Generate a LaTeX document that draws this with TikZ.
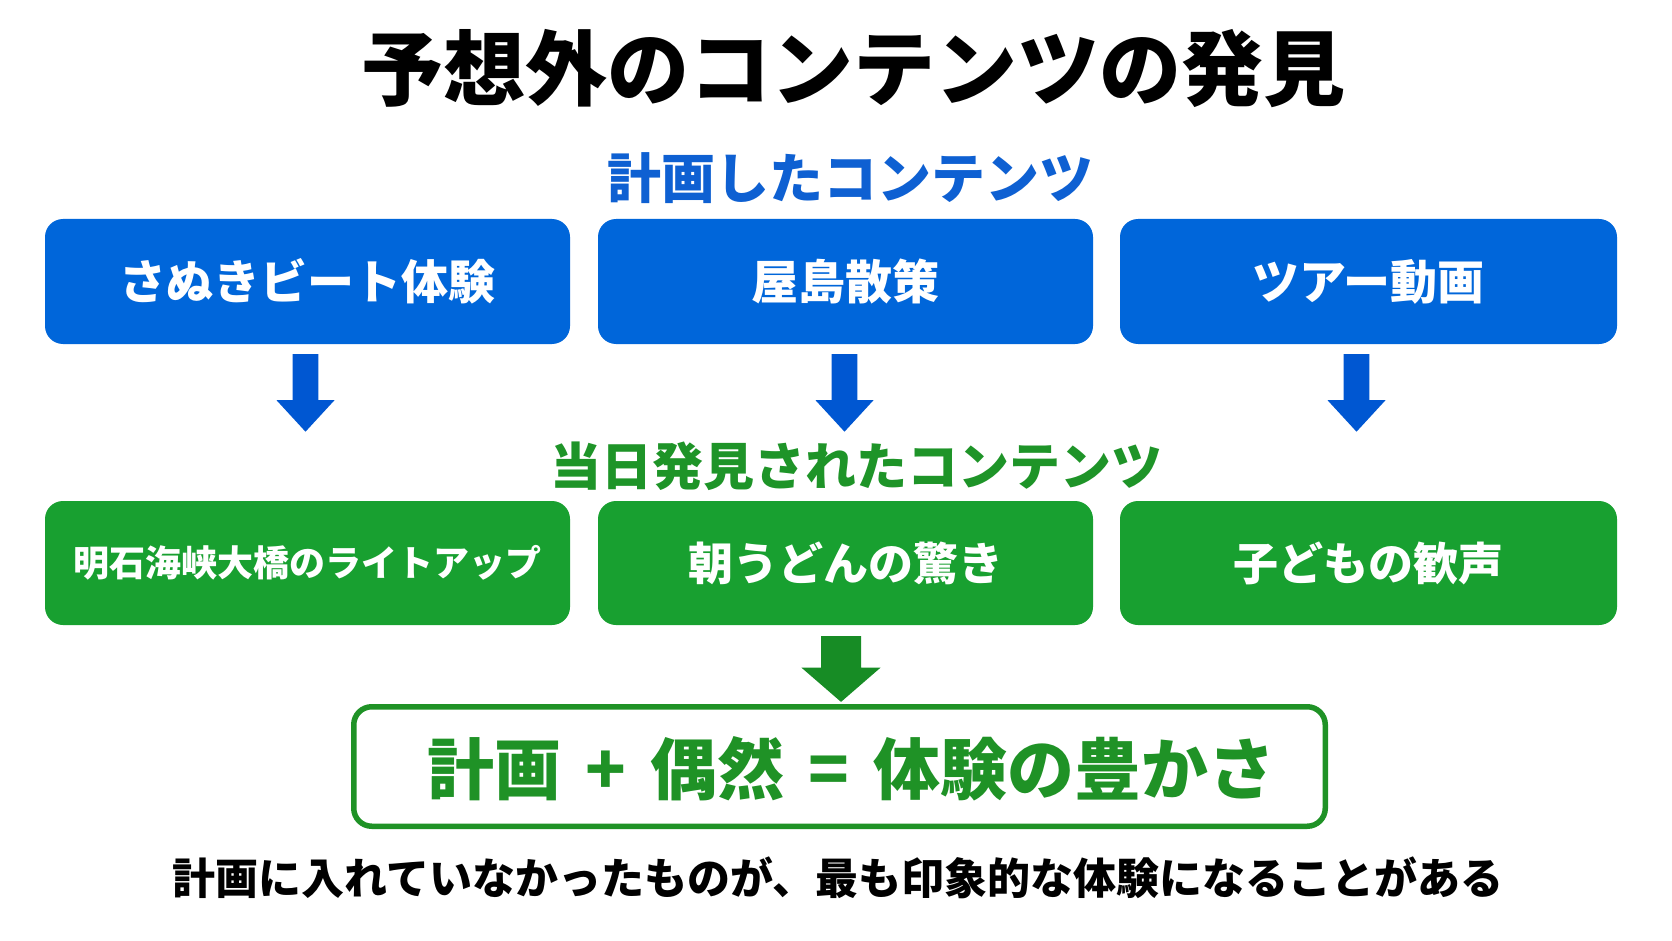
\documentclass[tikz,border=0pt]{standalone}
\usepackage{fontspec}
\usepackage{tikz}
\usetikzlibrary{calc}
\setmainfont{Noto Sans CJK JP}
\newfontfamily\heavyjp{Noto Sans CJK JP Black}
\definecolor{planblue}{HTML}{0066DA}
\definecolor{arrowblue}{HTML}{0057D2}
\definecolor{headblue}{HTML}{0E60D2}
\definecolor{foundgreen}{HTML}{18A030}
\definecolor{headgreen}{HTML}{1E9428}
\definecolor{arrowgreen}{HTML}{178C25}
\definecolor{resultgreen}{HTML}{1F9226}

\begin{document}
\begin{tikzpicture}[x=1pt,y=-1pt]
\tikzstyle{every node}+=[inner sep=0pt]
\tikzstyle{plan}=[rectangle,rounded corners=18pt,fill=planblue,text=white,minimum height=125pt,font=\bfseries\fontsize{47}{47}\selectfont]
\tikzstyle{found}=[rectangle,rounded corners=18pt,fill=foundgreen,text=white,minimum height=124pt,font=\bfseries\fontsize{45}{45}\selectfont]
\fill [white] (0,0) rectangle (1672,941);
\useasboundingbox (0,0) rectangle (1672,941);
\node [font=\heavyjp\fontsize{82}{82}\selectfont] (title) at (853,68.5) {予想外のコンテンツの発見};
\node [text=headblue,font=\bfseries\fontsize{54}{54}\selectfont] (plantitle) at (850,178) {計画したコンテンツ};
\node [plan,minimum width=525pt] (plan1) at (307.5,281.5) {さぬきビート体験};
\node [plan,minimum width=495pt] (plan2) at (845.5,281.5) {屋島散策};
\node [plan,minimum width=497pt] (plan3) at (1368.5,281.5) {ツアー動画};
\fill [arrowblue] ($(plan1.south)+(-14.8,10)$) -- ++(25.6,0) -- ++(0,46) -- ++(16.2,0) -- ++(-29,31.5) -- ++(-29,-31.5) -- ++(16.2,0) -- cycle;
\fill [arrowblue] ($(plan2.south)+(-13.8,10)$) -- ++(25.6,0) -- ++(0,46) -- ++(16.2,0) -- ++(-29,31.5) -- ++(-29,-31.5) -- ++(16.2,0) -- cycle;
\fill [arrowblue] ($(plan3.south)+(-24.8,10)$) -- ++(25.6,0) -- ++(0,46) -- ++(16.2,0) -- ++(-29,31.5) -- ++(-29,-31.5) -- ++(16.2,0) -- cycle;
\node [text=headgreen,font=\bfseries\fontsize{51}{51}\selectfont] (foundtitle) at (856,466) {当日発見されたコンテンツ};
\node [found,minimum width=525pt,font=\bfseries\fontsize{36}{36}\selectfont] (found1) at (307.5,563) {明石海峡大橋のライトアップ};
\node [found,minimum width=495pt] (found2) at (845.5,563) {朝うどんの驚き};
\node [found,minimum width=497pt] (found3) at (1368.5,563) {子どもの歓声};
\node [draw=resultgreen,line width=5.5pt,rounded corners=18pt,fill=white,minimum width=971.5pt,minimum height=119.5pt] (result) at (839.5,766.5) {};
\node [text=resultgreen,font=\bfseries\fontsize{67}{67}\selectfont] (resulttext) at ($(result)+(12,2)$) {計画\hspace{9pt} + \hspace{9pt}偶然\hspace{9pt} = \hspace{9pt}体験の豊かさ};
\fill [arrowgreen] ($(found2.south)+(-24.5,11)$) -- ++(40,0) -- ++(0,31.3) -- ++(19.7,0) -- ++(-39.7,34.4) -- ++(-39.7,-34.4) -- ++(19.7,0) -- cycle;
\node [font=\bfseries\fontsize{43}{43}\selectfont] (note) at (838,878) {計画に入れていなかったものが、最も印象的な体験になることがある};
\end{tikzpicture}
\end{document}
